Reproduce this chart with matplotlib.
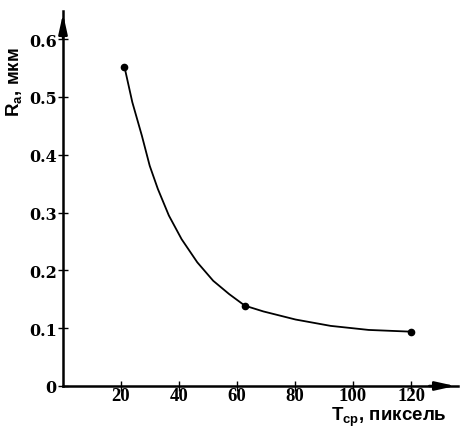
import matplotlib
matplotlib.use("Agg")
import matplotlib.pyplot as plt

# measured points
t_pts = [21.2, 62.7, 120]
ra_pts = [0.552, 0.139, 0.094]

# curve
t_curve = [21.2, 23.9, 27.2, 29.9, 32.7, 36.5, 40.9, 46.3, 51.8, 57.3, 62.7,
           69.1, 80.2, 92.3, 105.4, 120]
ra_curve = [0.552, 0.491, 0.433, 0.381, 0.341, 0.295, 0.254, 0.214, 0.182, 0.159, 0.139,
            0.129, 0.115, 0.104, 0.097, 0.094]

x_ticks = [20, 40, 60, 80, 100, 120]
y_ticks = [0, 0.1, 0.2, 0.3, 0.4, 0.5, 0.6]
y_labels = ["0", "0.1", "0.2", "0.3", "0.4", "0.5", "0.6"]

fig = plt.figure(figsize=(4.75, 4.31), dpi=100)
ax = fig.add_axes([63/475, 44/431, (458-63)/475, (387-12)/431])

ax.plot(t_curve, ra_curve, color="black", lw=1.3, solid_joinstyle="round")
ax.plot(t_pts, ra_pts, "o", color="black", ms=4.5)

ax.set_xlim(0, 395/2.9)
ax.set_ylim(0, 375/578)

ax.spines["top"].set_visible(False)
ax.spines["right"].set_visible(False)
ax.spines["left"].set_linewidth(1.8)
ax.spines["bottom"].set_linewidth(1.8)

ax.set_xticks(x_ticks)
ax.set_yticks(y_ticks)
ax.set_yticklabels(y_labels)
ax.tick_params(direction="inout", length=7, width=1)
ax.tick_params(axis="x", pad=-3)
ax.tick_params(axis="y", pad=1)
for lab in ax.get_xticklabels():
    lab.set_fontfamily("Liberation Serif")
    lab.set_fontweight("bold")
    lab.set_fontsize(13.5)
for lab in ax.get_yticklabels():
    lab.set_fontfamily("DejaVu Serif")
    lab.set_fontweight("bold")
    lab.set_fontsize(11.5)

# arrows at the axis ends
ax.annotate("", xy=(0, 1.0), xycoords="axes fraction", xytext=(0, 0.92),
            arrowprops=dict(arrowstyle="-|>,head_length=0.9,head_width=0.2",
                            color="black", lw=1.8, mutation_scale=13))
ax.annotate("", xy=(1.0, 0), xycoords="axes fraction", xytext=(0.92, 0),
            arrowprops=dict(arrowstyle="-|>,head_length=0.9,head_width=0.2",
                            color="black", lw=1.8, mutation_scale=13))

fig.text(15/475, 1 - 82/431, r"R$_\mathregular{a}$, мкм", rotation=90, ha="center", va="center",
         fontsize=13.5, fontweight="bold", family="Liberation Sans")
fig.text(447/475, 1 - 417/431, r"T$_\mathregular{ср}$, пиксель", ha="right", va="center",
         fontsize=13.5, fontweight="bold", family="Liberation Sans")

fig.savefig("out.png", dpi=100)
